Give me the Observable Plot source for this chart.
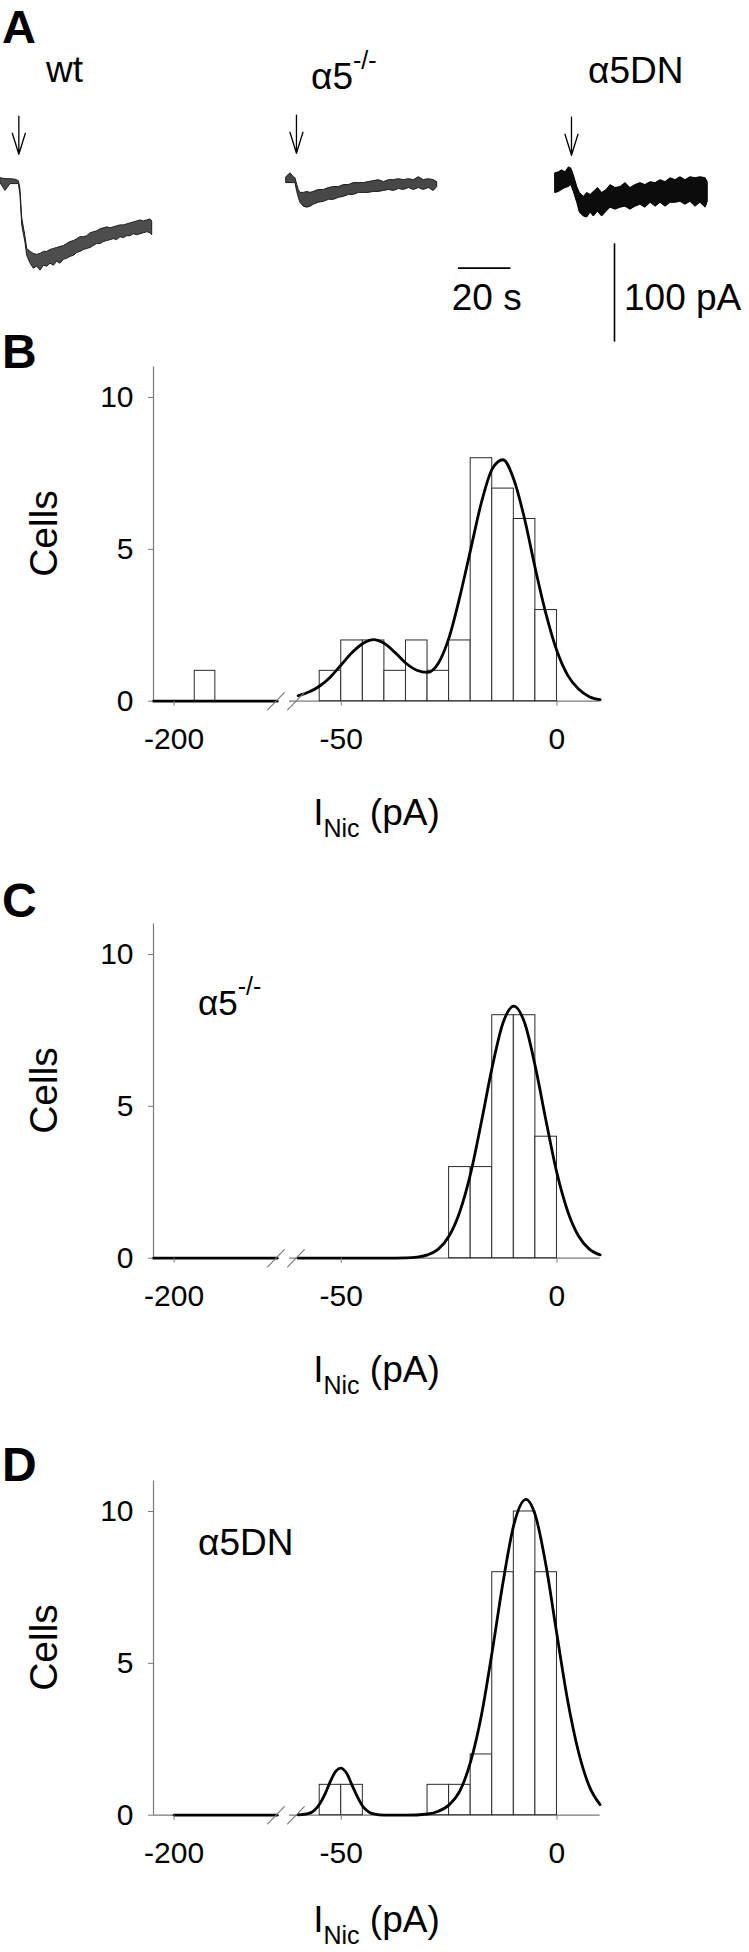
<!DOCTYPE html>
<html>
<head>
<meta charset="utf-8">
<script src="https://cdn.jsdelivr.net/npm/d3@7"></script>
<script src="https://cdn.jsdelivr.net/npm/@observablehq/plot@0.6"></script>
<style>
  html, body { margin: 0; padding: 0; background: #fff; }
  #root { position: relative; width: 749px; height: 1952px; overflow: hidden; background: #fff;
          font-family: "Liberation Sans", Arial, Helvetica, sans-serif; }
  #root svg { overflow: visible; }
</style>
</head>
<body>
<div id="root"></div>
<script>
// ---------------- DATA ----------------
// Panel A: whole-cell nicotinic current traces (time s, upper / lower edge of noisy trace, pA)
const wtT  = [0,1.9,3.8,5.7,7.0,7.6,8.3,8.9,9.5,10.2,11.5,12.7,14.0,15.3,16.5,17.8,19.1,20.4,21.6,22.9,24.2,25.4,26.7,28.0,29.3,30.5,31.8,33.1,34.4,35.6,36.9,38.2,39.4,40.7,42.0,43.3,44.5,45.8,47.1,48.3,49.6,50.9,52.2,53.4,54.7,56.0,57.3,57.9];
const wtHi = [3,2,2,1.5,0,-8,-38,-47,-56,-69,-72,-74,-75,-74,-72,-72,-70,-69,-68,-67,-66,-64,-62,-61,-59,-57,-57,-56,-53,-52,-51,-49,-48,-47,-48,-47,-46,-45,-45,-44,-43,-42,-41,-40,-41,-40,-39,-41];
const wtLo = [-2,-10,-3,-3,-3,-14,-45,-54,-62,-76,-84,-89,-87,-91,-86,-87,-84,-86,-82,-84,-80,-79,-77,-76,-73,-72,-70,-69,-68,-66,-64,-64,-62,-61,-60,-59,-60,-57,-58,-56,-56,-54,-55,-54,-53,-52,-53,-55];

const koT  = [0,1.5,2.8,3.4,4.1,4.7,5.3,6.6,7.9,9.2,10.4,12.3,14.3,16.2,18.1,20,21.9,23.8,25.7,27.6,29.5,31.4,33.3,35.2,37.2,39.1,41,42.9,44.8,46.7,48.6,50.5,52.4,54.3,56.2,57.5];
const koHi = [3,7,3,2,-5,-10,-13,-13,-12,-13,-12,-10,-10,-8,-7,-7,-5,-5,-3,-3,-3,-2,-1,0,-2,0,0,1,0,1,0,3,0,1,0,-2];
const koLo = [-3,-3,-3,-3,-12,-18,-23,-27,-28,-27,-25,-23,-22,-20,-20,-18,-17,-15,-15,-13,-13,-13,-12,-12,-11,-10,-11,-9,-10,-8,-10,-8,-10,-8,-11,-7];

const dnT  = [0,1.3,2.5,3.8,5.1,6.0,7.0,8.3,9.3,10.8,12.1,13.4,14.6,16.2,17.8,19.5,21,22.9,24.8,26.7,28.6,30.5,32.4,34.3,36.3,38.2,40.1,42,43.9,45.8,47.7,49.6,51.5,53.4,55.3,57.3,58.1];
const dnHi = [9,10,12,10,15,14,7,-5,-11,-15,-11,-13,-10,-6,-11,-8,-3,-6,-5,-1,-6,-3,-1,-3,0,-1,2,0,4,2,5,2,5,4,5,4,0];
const dnLo = [-11,-10,-8,-6,-5,-3,-10,-21,-31,-35,-36,-31,-35,-30,-35,-30,-26,-28,-26,-25,-28,-25,-23,-26,-21,-25,-21,-25,-21,-21,-20,-23,-20,-25,-21,-26,-20];

// nicotine application (arrow) time, s
const applyT = [7.0, 3.8, 6.1];
// scale bars
const scaleBarSeconds = 20;
const scaleBarPA = 100;

// Panels B-D: histograms, 5 pA bins (bin lower edge, number of cells)
const binWidth = 5;
const wtBinStart = [-195,-55,-50,-45,-40,-35,-30,-25,-20,-15,-10,-5];
const wtCounts   = [1,1,2,2,1,2,1,2,8,7,6,3];
const koBinStart = [-25,-20,-15,-10,-5];
const koCounts   = [3,3,8,8,4];
const dnBinStart = [-55,-50,-30,-25,-20,-15,-10,-5];
const dnCounts   = [1,1,1,1,2,8,10,8];

// Gaussian fits (pA, cells)
const wtFitX = [-60,-57.5,-55,-52.5,-50,-47.5,-45,-42.5,-40,-37.5,-35,-32.5,-30,-27.5,-25,-22.5,-20,-17.5,-15,-12.5,-10,-7.5,-5,-2.5,0,2.5,5,7.5,10];
const wtFitY = [0.18,0.3,0.5,0.8,1.2,1.6,1.9,2.03,1.9,1.6,1.25,1.02,0.95,1.25,2.1,3.45,5.0,6.55,7.65,7.95,7.3,6.0,4.35,2.85,1.65,0.85,0.4,0.15,0.05];
const koFitX = [-60,-50,-40,-35,-32.5,-30,-27.5,-25,-22.5,-20,-17.5,-15,-12.5,-10,-7.5,-5,-2.5,0,2.5,5,7.5,10];
const koFitY = [0,0,0,0.01,0.035,0.11,0.3,0.73,1.54,2.8,4.5,6.3,7.75,8.3,7.75,6.3,4.5,2.8,1.54,0.73,0.3,0.11];
const dnFitX = [-60,-57.5,-56.25,-55,-53.75,-52.5,-51.25,-50.2,-48.75,-47.5,-46.25,-45,-43.75,-42.5,-40,-35,-30,-27.5,-25,-22.5,-20,-17.5,-15,-12.5,-10,-7.2,-5,-2.5,0,2.5,5,7.5,10];
const dnFitY = [0.01,0.06,0.16,0.37,0.7,1.12,1.45,1.55,1.38,0.99,0.6,0.29,0.12,0.04,0,0,0.04,0.13,0.34,0.8,1.77,3.3,5.4,7.67,9.56,10.4,9.87,8.19,5.94,3.76,2.08,0.95,0.35];
// fit held at zero on the far side of the axis break (start, end in pA)
const wtFitFar = [-205,-175];
const koFitFar = [-205,-175];
const dnFitFar = [-200,-175];

// broken x axis: [-205,-175] then [-62,10]
const xBreakDomain = [-205,-175,-62,10];
const breakMarks = [-175.3,-60.5];
const xTicks = [-200,-50,0];
const yTicks = [0,5,10];

// ---------------- LAYOUT / STYLE ----------------
const root = document.getElementById("root");
const FONT = '"Liberation Sans", Arial, Helvetica, sans-serif';
const axisGray = "#7a7a7a";
function place(node, left, top) {
  node.style.position = "absolute";
  node.style.left = left + "px";
  node.style.top = top + "px";
  root.appendChild(node);
}
const baseStyle = {background: "transparent", overflow: "visible", fontFamily: FONT, color: "black"};

// custom vector shapes
const openArrow = {draw(ctx, l) {
  ctx.moveTo(0, 0); ctx.lineTo(0, -l);
  ctx.moveTo(-6.5, -l + 21); ctx.lineTo(0, -l); ctx.lineTo(6.5, -l + 21);
}};
const slash = {draw(ctx, l) { ctx.moveTo(0, 0); ctx.lineTo(0, -l); }};

// Panel A scales (px per s, px per pA)
const pxPerS = 2.62, pxPerPA = 0.983;
const traceX = {type: "linear", domain: [0, 60], range: [0, 60 * pxPerS], axis: null};
const traceY = {type: "linear", domain: [-100, 80], range: [180 * pxPerPA, 0], axis: null};
const zeroOffset = 80 * pxPerPA;

const traces = [
  {t: wtT, hi: wtHi, lo: wtLo, onset: applyT[0], fill: "#4d4d4d", ink: "#1c1c1c", left: 0,   base: 181},
  {t: koT, hi: koHi, lo: koLo, onset: applyT[1], fill: "#474747", ink: "#1a1a1a", left: 286, base: 180},
  {t: dnT, hi: dnHi, lo: dnLo, onset: applyT[2], fill: "#0c0c0c", ink: "#000000", left: 555, base: 182}
];
traces.forEach(tr => {
  const rows = tr.t.map((t, i) => ({t, hi: tr.hi[i], lo: tr.lo[i]}));
  const svg = Plot.plot({
    width: 160, height: 180, margin: 0,
    x: traceX, y: traceY, style: baseStyle,
    marks: [
      Plot.areaY(rows, {x: "t", y1: "lo", y2: "hi", fill: tr.fill, stroke: tr.ink, strokeWidth: 1, strokeLinejoin: "miter"}),
      Plot.vector([tr.onset], {x: d => d, y: 66, length: 38, rotate: 180, anchor: "start",
        shape: openArrow, fill: "none", stroke: "black", strokeWidth: 1.3})
    ]
  });
  place(svg, tr.left, tr.base - zeroOffset);
});

// scale bars
place(Plot.plot({width: 160, height: 180, margin: 0, x: traceX, y: traceY, style: baseStyle,
  marks: [Plot.ruleY([0], {x1: 0, x2: scaleBarSeconds, stroke: "black", strokeWidth: 1.6})]}),
  457.7, 267.3 - zeroOffset);
place(Plot.plot({width: 160, height: 180, margin: 0, x: traceX, y: traceY, style: baseStyle,
  marks: [Plot.ruleX([0], {y1: 0, y2: scaleBarPA, stroke: "black", strokeWidth: 1.6})]}),
  614, 341.7 - zeroOffset);

// Panels B-D
const panels = [
  {binStart: wtBinStart, counts: wtCounts, fitX: wtFitX, fitY: wtFitY, far: wtFitFar, top: 330},
  {binStart: koBinStart, counts: koCounts, fitX: koFitX, fitY: koFitY, far: koFitFar, top: 887},
  {binStart: dnBinStart, counts: dnCounts, fitX: dnFitX, fitY: dnFitY, far: dnFitFar, top: 1444}
];
const PH = 505, zeroY = 370.7, topY = 36.6;
panels.forEach(p => {
  const bars = p.binStart.map((x0, i) => ({x0, x1: x0 + binWidth, n: p.counts[i]}));
  const fit = p.fitX.map((x, i) => ({x, y: p.fitY[i]}));
  const far = p.far.map(x => ({x, y: 0}));
  const svg = Plot.plot({
    width: 749, height: PH,
    marginLeft: 153, marginRight: 149.4, marginTop: topY, marginBottom: PH - zeroY,
    x: {type: "linear", domain: xBreakDomain, range: [153, 276.7, 289, 599.6], label: null},
    y: {type: "linear", domain: [0, 11], label: null},
    style: baseStyle,
    marks: [
      Plot.ruleY([0], {x1: xBreakDomain[0], x2: xBreakDomain[1], stroke: axisGray, strokeWidth: 1.2}),
      Plot.ruleY([0], {x1: xBreakDomain[2], x2: xBreakDomain[3], stroke: axisGray, strokeWidth: 1.2}),
      Plot.ruleX([xBreakDomain[0]], {y1: 0, y2: 11, stroke: axisGray, strokeWidth: 1.2}),
      Plot.rect(bars, {x1: "x0", x2: "x1", y1: 0, y2: "n", fill: "white", stroke: "#2a2a2a", strokeWidth: 1}),
      Plot.line(far, {x: "x", y: "y", stroke: "black", strokeWidth: 2.8}),
      Plot.line(fit, {x: "x", y: "y", curve: "monotone-x", stroke: "black", strokeWidth: 2.8}),
      Plot.vector(breakMarks, {x: d => d, y: 0, length: 24, rotate: 44, anchor: "middle",
        shape: slash, fill: "none", stroke: axisGray, strokeWidth: 1.2}),
      Plot.axisY({ticks: yTicks, tickSize: 5, tickPadding: 15, fontSize: 30, stroke: axisGray, fill: "black", label: null, tickFormat: d => String(d)}),
      Plot.axisX({ticks: xTicks, tickSize: 5, tickPadding: 21, fontSize: 30, stroke: axisGray, fill: "black", label: null, tickFormat: d => String(d)})
    ]
  });
  place(svg, 0, p.top);
});

// ---------------- TEXT OVERLAY ----------------
const overlay = d3.create("svg").attr("width", 749).attr("height", 1952)
  .style("position", "absolute").style("left", "0px").style("top", "0px")
  .style("font-family", FONT).style("pointer-events", "none");
function txt(x, y, parts, {size = 37, weight = "normal", anchor = "start", rotate = 0} = {}) {
  const t = overlay.append("text").attr("x", x).attr("y", y).attr("font-size", size)
    .attr("font-weight", weight).attr("text-anchor", anchor).attr("fill", "black")
    .style("white-space", "pre");
  if (rotate) t.attr("transform", `rotate(${rotate} ${x} ${y})`);
  parts.forEach(pt => {
    const s = t.append("tspan").text(pt.text);
    if (pt.dy) s.attr("dy", pt.dy);
    if (pt.size) s.attr("font-size", pt.size);
  });
}
// panel letters
txt(2, 43, [{text: "A"}], {size: 47, weight: "bold"});
txt(2, 368, [{text: "B"}], {size: 48, weight: "bold"});
txt(2, 917, [{text: "C"}], {size: 48, weight: "bold"});
txt(2, 1481, [{text: "D"}], {size: 48, weight: "bold"});
// panel A labels
txt(46, 82, [{text: "wt"}]);
txt(311, 89, [{text: "α5"}, {text: "-/-", dy: -20, size: 25}]);
txt(588, 83, [{text: "α5DN"}]);
txt(486.7, 310, [{text: "20 s"}], {anchor: "middle"});
txt(624, 310, [{text: "100 pA"}]);
// panels B-D axis titles
[825, 1382, 1932].forEach((yLab, k) => {
  const o = 557 * k;
  txt(57, 533.5 + o, [{text: "Cells"}], {size: 39, anchor: "middle", rotate: -90});
  txt(376.5, yLab, [{text: "I"}, {text: "Nic", dy: 12, size: 25}, {text: " (pA)", dy: -12}], {anchor: "middle"});
});
txt(198, 1015, [{text: "α5"}, {text: "-/-", dy: -20, size: 25}], {size: 35});
txt(198, 1555, [{text: "α5DN"}]);
root.appendChild(overlay.node());
</script>
</body>
</html>
